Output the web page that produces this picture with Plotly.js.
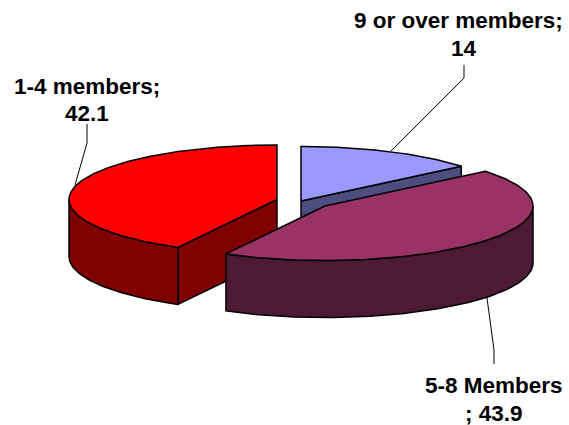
<!DOCTYPE html>
<html>
<head>
<meta charset="utf-8">
<script src="https://cdn.plot.ly/plotly-3.0.1.min.js"></script>
<style>html,body{margin:0;padding:0;background:#fff}#chart{width:569px;height:425px}</style>
</head>
<body>
<div id="chart"></div>
<script>
// Household size shares, drawn clockwise from twelve o'clock
const categories = ['9 or over members', '5-8 Members', '1-4 members'];
const shares = [14, 43.9, 42.1];

// Two text lines for each slice label
const labelLines = [
  [categories[0] + ';', String(shares[0])],
  [categories[1], '; ' + shares[1]],
  [categories[2] + ';', String(shares[2])]
];

const topColors = ['#9999FF', '#993366', '#FF0000'];
const wallColors = ['#4D4D80', '#4D1A33', '#800000'];

// Tilted-disc geometry, in plot units (one unit per pixel)
const radiusX = 208, radiusY = 54.5, depth = 57;
const centersX = [301, 325, 277];
const centersY = [201, 206, 199.5];

// Label anchors and leader lines for each slice
const labelX = [[458, 464], [494, 494], [87, 87]];
const labelY = [[20, 48], [385, 413], [86, 113]];
const leaders = [
  {x: [391, 464, 464], y: [151, 78, 65]},
  {x: [487, 494, 494], y: [298, 350, 364]},
  {x: [75, 87, 87], y: [185, 143, 124]}
];

const rad = d => d * Math.PI / 180;
const total = shares.reduce((a, b) => a + b, 0);

function rim(i, deg) {
  return [centersX[i] + radiusX * Math.sin(rad(deg)),
          centersY[i] - radiusY * Math.cos(rad(deg))];
}
function arc(i, from, to) {
  const pts = [];
  const n = Math.max(2, Math.ceil(Math.abs(to - from)));
  for (let k = 0; k <= n; k++) pts.push(rim(i, from + (to - from) * k / n));
  return pts;
}
function face(pts, color) {
  const closed = pts.concat([pts[0]]);
  return {
    type: 'scatter', mode: 'lines', hoverinfo: 'skip', showlegend: false,
    x: closed.map(p => p[0]), y: closed.map(p => p[1]),
    fill: 'toself', fillcolor: color,
    line: {color: '#000', width: 1.5, shape: 'linear'}
  };
}
const drop = pts => pts.map(p => [p[0], p[1] + depth]);

// Slices are stacked back to front: blue, red, then purple
const spans = [];
let running = 0;
shares.forEach(v => {
  spans.push([running, running + v / total * 360]);
  running += v / total * 360;
});

const traces = [];
[0, 2, 1].forEach(i => {
  const [a0, a1] = spans[i];
  const c = [centersX[i], centersY[i]];
  // Radial cut faces that turn toward the viewer
  [[a0, a0 - 90], [a1, a1 + 90]].forEach(([edge, normal]) => {
    if (Math.cos(rad(normal)) < -1e-6) {
      const seg = [c, rim(i, edge)];
      traces.push(face(seg.concat(drop(seg).reverse()), wallColors[i]));
    }
  });
  // Front part of the outer wall
  const w0 = Math.max(a0, 90), w1 = Math.min(a1, 270);
  if (w1 > w0) {
    const outer = arc(i, w0, w1);
    traces.push(face(outer.concat(drop(outer).reverse()), wallColors[i]));
  }
  // Top surface
  traces.push(face([c].concat(arc(i, a0, a1)), topColors[i]));
});

const annotations = [];
labelLines.forEach((lines, i) => lines.forEach((t, j) => annotations.push({
  text: '<b>' + t + '</b>', x: labelX[i][j], y: labelY[i][j], xref: 'x', yref: 'y',
  showarrow: false, xanchor: 'center', yanchor: 'middle',
  font: {family: '"Liberation Sans", Arial, sans-serif', size: 22.5, color: '#000'}
})));

const shapes = leaders.map(l => ({
  type: 'path', xref: 'x', yref: 'y',
  path: l.x.map((x, k) => (k ? 'L' : 'M') + x + ' ' + l.y[k]).join(' '),
  line: {color: '#000', width: 1}
}));

Plotly.newPlot('chart', traces, {
  width: 569, height: 425,
  margin: {l: 0, r: 0, t: 0, b: 0},
  paper_bgcolor: '#fff', plot_bgcolor: '#fff',
  xaxis: {range: [0, 569], visible: false, fixedrange: true},
  yaxis: {range: [425, 0], visible: false, fixedrange: true},
  annotations, shapes, showlegend: false
}, {displayModeBar: false, staticPlot: true});
</script>
</body>
</html>
